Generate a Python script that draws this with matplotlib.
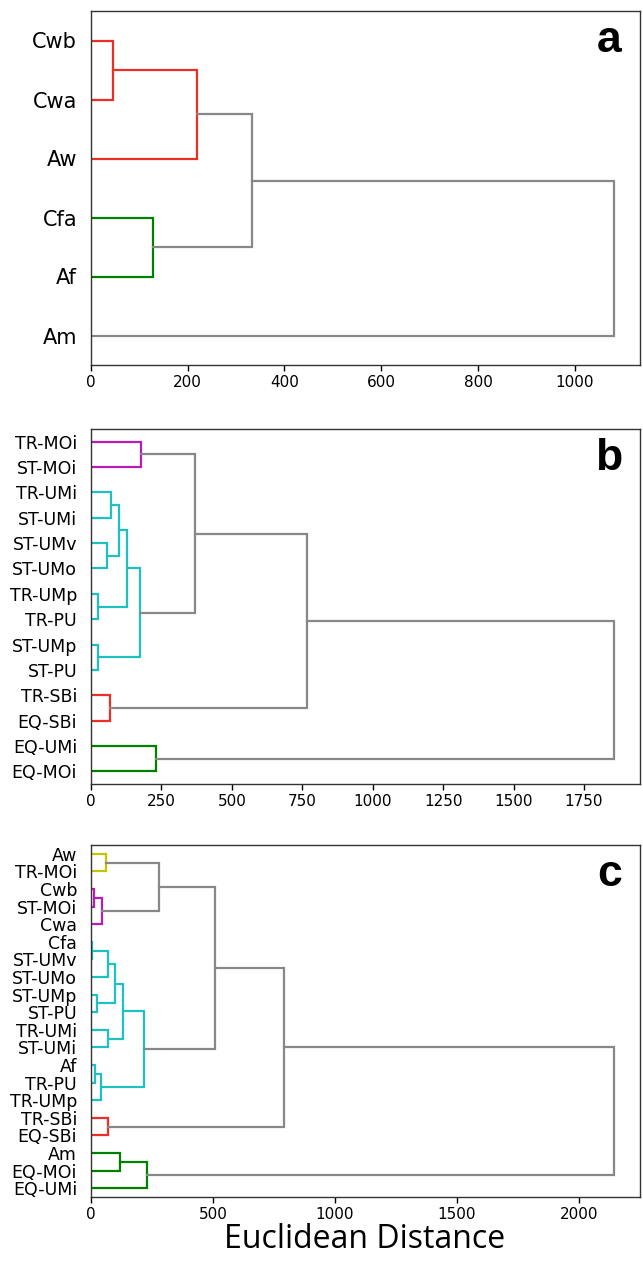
import matplotlib
matplotlib.use("Agg")
import matplotlib.pyplot as plt

# panel a: climate classes
a_leaves = ['Cwb', 'Cwa', 'Aw', 'Cfa', 'Af', 'Am']
a_links = [
    ('Cwb', 'Cwa', 45, 'r'),
    ('L0', 'Aw', 219, 'r'),
    ('Cfa', 'Af', 128, 'g'),
    ('L1', 'L2', 333, 'gray'),
    ('L3', 'Am', 1081, 'gray'),
]

# panel b: regions
b_leaves = ['TR-MOi', 'ST-MOi', 'TR-UMi', 'ST-UMi', 'ST-UMv', 'ST-UMo', 'TR-UMp',
            'TR-PU', 'ST-UMp', 'ST-PU', 'TR-SBi', 'EQ-SBi', 'EQ-UMi', 'EQ-MOi']
b_links = [
    ('TR-MOi', 'ST-MOi', 178, 'm'),
    ('TR-UMi', 'ST-UMi', 70, 'c'),
    ('ST-UMv', 'ST-UMo', 56, 'c'),
    ('L1', 'L2', 98, 'c'),
    ('TR-UMp', 'TR-PU', 25, 'c'),
    ('L3', 'L4', 128, 'c'),
    ('ST-UMp', 'ST-PU', 24, 'c'),
    ('L5', 'L6', 173, 'c'),
    ('L0', 'L7', 369, 'gray'),
    ('TR-SBi', 'EQ-SBi', 68, 'r'),
    ('L8', 'L9', 765, 'gray'),
    ('EQ-UMi', 'EQ-MOi', 230, 'g'),
    ('L10', 'L11', 1856, 'gray'),
]

# panel c: both together
c_leaves = ['Aw', 'TR-MOi', 'Cwb', 'ST-MOi', 'Cwa', 'Cfa', 'ST-UMv', 'ST-UMo',
            'ST-UMp', 'ST-PU', 'TR-UMi', 'ST-UMi', 'Af', 'TR-PU', 'TR-UMp',
            'TR-SBi', 'EQ-SBi', 'Am', 'EQ-MOi', 'EQ-UMi']
c_links = [
    ('Aw', 'TR-MOi', 62, 'y'),
    ('Cwb', 'ST-MOi', 13, 'm'),
    ('L1', 'Cwa', 44, 'm'),
    ('L0', 'L2', 277, 'gray'),
    ('Cfa', 'ST-UMv', 3, 'c'),
    ('L4', 'ST-UMo', 68, 'c'),
    ('ST-UMp', 'ST-PU', 24, 'c'),
    ('L5', 'L6', 100, 'c'),
    ('TR-UMi', 'ST-UMi', 69, 'c'),
    ('L7', 'L8', 133, 'c'),
    ('Af', 'TR-PU', 16, 'c'),
    ('L10', 'TR-UMp', 39, 'c'),
    ('L9', 'L11', 219, 'c'),
    ('L3', 'L12', 510, 'gray'),
    ('TR-SBi', 'EQ-SBi', 68, 'r'),
    ('L13', 'L14', 793, 'gray'),
    ('Am', 'EQ-MOi', 120, 'g'),
    ('L16', 'EQ-UMi', 230, 'g'),
    ('L15', 'L17', 2143, 'gray'),
]

x_ticks_a = [0, 200, 400, 600, 800, 1000]
x_ticks_b = [0, 250, 500, 750, 1000, 1250, 1500, 1750]
x_ticks_c = [0, 500, 1000, 1500, 2000]

link_colors = {'r': '#ec2f25', 'g': '#008000', 'c': '#1fc0c0',
               'm': '#b81cb8', 'y': '#c4c400', 'gray': '#888888'}


def draw_dendro(ax, leaves, links, ticks, letter, label_size):
    n = len(leaves)
    pos = {}
    for i, name in enumerate(leaves):
        pos[name] = (10 * (n - 1 - i) + 5, 0)
    top = 0
    for k, (p, q, h, col) in enumerate(links):
        y1, h1 = pos[p]
        y2, h2 = pos[q]
        ax.plot([h1, h, h, h2], [y1, y1, y2, y2], color=link_colors[col], lw=1.6,
                solid_joinstyle='miter')
        pos['L%d' % k] = ((y1 + y2) / 2, h)
        top = max(top, h)
    ax.set_xlim(0, top * 1.05)
    ax.set_ylim(0, 10 * n)
    ax.set_yticks([10 * (n - 1 - i) + 5 for i in range(n)])
    ax.set_yticklabels(leaves, fontsize=label_size)
    ax.tick_params(axis='y', length=0, pad=10)
    ax.set_xticks(ticks)
    ax.tick_params(axis='x', labelsize=11, length=4, width=1, pad=3)
    for s in ax.spines.values():
        s.set_linewidth(1.0)
        s.set_color('#333333')
    ax.text(0.967, 0.975, letter, transform=ax.transAxes, ha='right', va='top',
            fontsize=32, fontweight='bold', family='Liberation Sans')


W, H = 643, 1280
fig = plt.figure(figsize=(W / 100, H / 100), dpi=100)


def box(top, bottom, left=91, right=640):
    return [left / W, 1 - bottom / H, (right - left) / W, (bottom - top) / H]


ax_a = fig.add_axes(box(11, 365))
ax_b = fig.add_axes(box(429, 784))
ax_c = fig.add_axes(box(845, 1197))

draw_dendro(ax_a, a_leaves, a_links, x_ticks_a, 'a', 15)
draw_dendro(ax_b, b_leaves, b_links, x_ticks_b, 'b', 12.5)
draw_dendro(ax_c, c_leaves, c_links, x_ticks_c, 'c', 12.5)

fig.text(365 / W, 1 - 1239 / H, 'Euclidean Distance', ha='center', va='center',
         fontsize=23, family='Open Sans')

fig.savefig('out.png', dpi=100)
